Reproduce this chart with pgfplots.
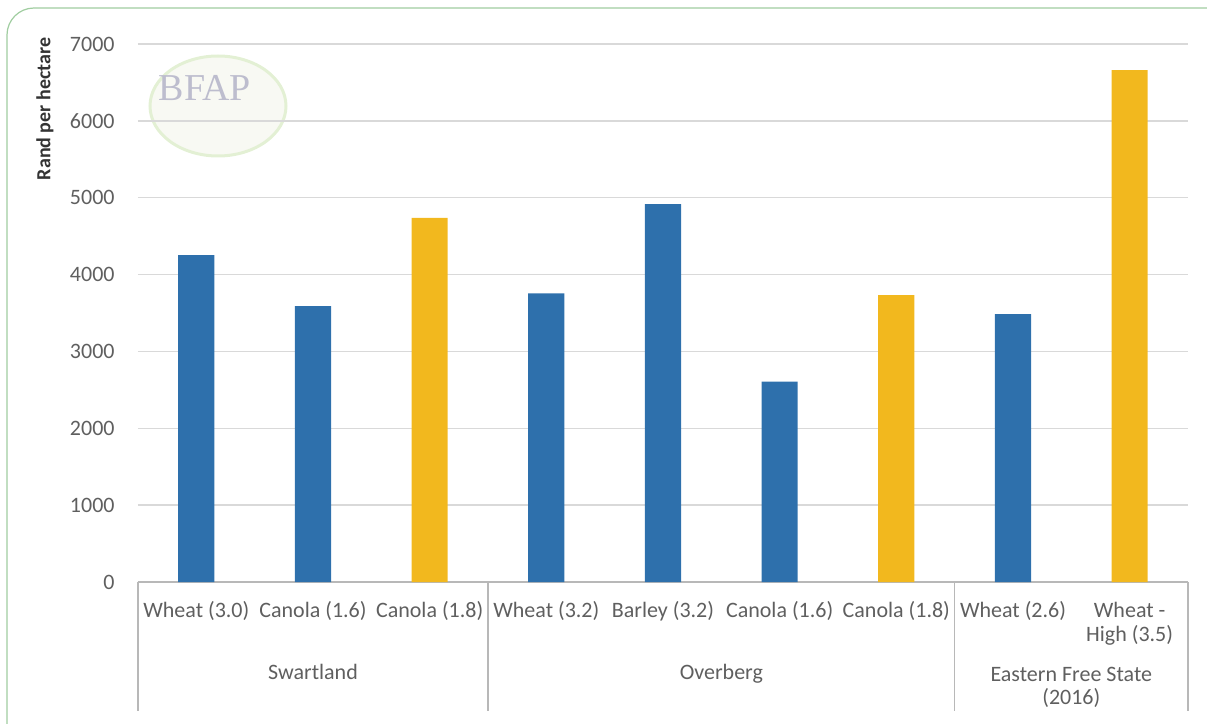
\documentclass[border=0pt]{standalone}
\usepackage{pgfplots}
\pgfplotsset{compat=1.18}
\usepackage{fontspec}
\setmainfont{Carlito}
\newfontfamily\logofont{Liberation Serif}
\definecolor{barblue}{RGB}{46,112,172}
\definecolor{bargold}{RGB}{242,184,30}
\definecolor{gridgray}{RGB}{217,217,217}
\definecolor{txtgray}{RGB}{95,95,95}
\definecolor{framegreen}{RGB}{160,205,160}

\begin{document}
\begin{tikzpicture}
  % faint logo in the corner
  \fill[green!25!brown!6] (40pt,238pt) ellipse (34pt and 25pt);
  \draw[green!40!brown!20, line width=1.5pt] (40pt,238pt) ellipse (34pt and 25pt);
  \node[font=\logofont\fontsize{19}{19}\selectfont, text=blue!15!gray!45] at (33.5pt,247pt) {BFAP};

  \begin{axis}[
    at={(0,0)}, anchor=south west,
    scale only axis, width=525pt, height=269pt,
    ybar, bar width=0.31, bar shift=0pt,
    xmin=-0.5, xmax=8.5, ymin=0, ymax=7000,
    xtick={0,...,7}, ytick={0,1000,...,7000},
    xticklabels={Wheat (3.0),Canola (1.6),Canola (1.8),Wheat (3.2),Barley (3.2),Canola (1.6),Canola (1.8),Wheat (2.6)},
    extra x ticks={8},
    extra x tick labels={{Wheat -\\High (3.5)}},
    extra x tick style={xticklabel style={yshift=-12pt}},
    xticklabel style={anchor=base, yshift=-17.5pt, align=center, text=txtgray, font=\fontsize{11}{12}\selectfont},
    yticklabel style={anchor=east, inner sep=0pt, xshift=-11.5pt, text=txtgray, font=\fontsize{11}{12}\selectfont},
    /pgf/number format/1000 sep={},
    /pgf/number format/assume math mode=true,
    major tick length=0pt,
    ymajorgrids, grid style={gridgray, line width=0.7pt},
    separate axis lines,
    axis x line*=bottom, axis y line*=left,
    x axis line style={draw=gridgray!85!black, line width=0.7pt},
    y axis line style={draw=none},
    clip=false,
  ]
    \addplot[fill=barblue, draw=none] coordinates {
      (0,4254) (1,3591) (3,3755) (4,4917) (5,2606) (7,3487)
    };
    \addplot[fill=bargold, draw=none] coordinates {
      (2,4738) (6,3734) (8,6661)
    };

    % multi-level category separators
    \pgfplotsinvokeforeach{-0.5,2.5,6.5,8.5}{
      \draw[gridgray!85!black, line width=0.7pt] (axis cs:#1,0) -- ++(0pt,-64.5pt);
    }
    \node[anchor=base, text=txtgray, font=\fontsize{11}{12}\selectfont] at ([yshift=-48.5pt]axis cs:1,0) {Swartland};
    \node[anchor=base, text=txtgray, font=\fontsize{11}{12}\selectfont] at ([yshift=-48.5pt]axis cs:4.5,0) {Overberg};
    \node[anchor=base, text=txtgray, font=\fontsize{11}{12}\selectfont] at ([yshift=-49.5pt]axis cs:7.5,0) {Eastern Free State};
    \node[anchor=base, text=txtgray, font=\fontsize{11}{12}\selectfont] at ([yshift=-61pt]axis cs:7.5,0) {(2016)};
  \end{axis}

  \node[rotate=90, font=\bfseries\fontsize{10}{12}\selectfont, text=black!80] at (-46.5pt,236.5pt) {Rand per hectare};

  % rounded frame
  \draw[framegreen, line width=0.6pt, rounded corners=13.5pt] (-65.5pt,-71pt) -- (-65.5pt,287pt) -- (534.5pt,287pt);

  \pgfresetboundingbox
  \path[use as bounding box] (-69pt,-71pt) rectangle (534.5pt,291pt);
\end{tikzpicture}
\end{document}
